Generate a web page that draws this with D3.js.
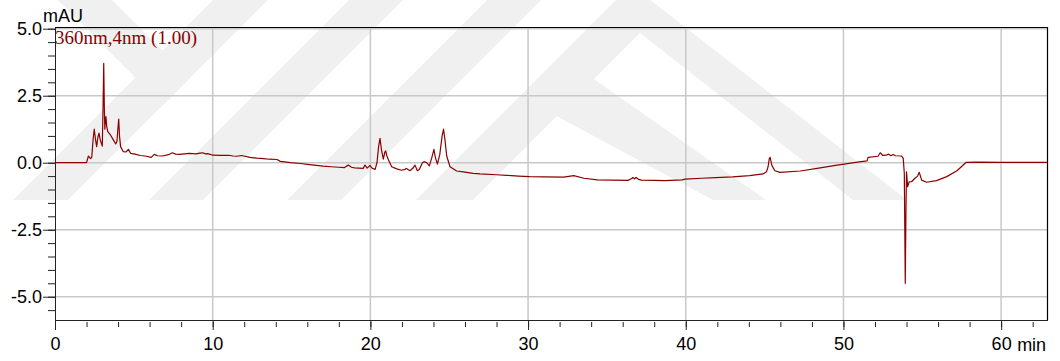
<!DOCTYPE html>
<html>
<head>
<meta charset="utf-8">
<script src="https://cdn.jsdelivr.net/npm/d3@7"></script>
<style>
  body { margin: 0; background: #fff; }
  svg { display: block; }
</style>
</head>
<body>
<svg id="chart" width="1060" height="361"></svg>
<script>
// Retention time (min) and detector response (mAU) at 360 nm
const retentionTime = [
  0, 1.0, 2.0, 2.12, 2.25, 2.33, 2.42, 2.49, 2.56, 2.64, 2.72, 2.79, 2.87, 2.94,
  3.0, 3.05, 3.09, 3.13, 3.16, 3.2, 3.23, 3.28, 3.35, 3.5, 3.7, 3.85, 3.93, 3.98,
  4.04, 4.09, 4.16, 4.33, 4.5, 4.65, 4.8, 5.08, 5.4, 5.72, 6.1, 6.3, 6.5, 6.8,
  7.2, 7.44, 7.65, 7.87, 8.2, 8.51, 8.94, 9.2, 9.37, 9.55, 9.69, 10.01, 10.5,
  11.08, 11.3, 11.51, 11.83, 12.37, 12.8, 13.22, 13.6, 14.08, 14.29, 14.94, 15.58,
  16.0, 16.44, 17.0, 17.51, 18.0, 18.36, 18.6, 18.8, 19.0, 19.54, 19.66, 19.8,
  19.97, 20.1, 20.3, 20.42, 20.52, 20.61, 20.7, 20.82, 20.92, 20.97, 21.05, 21.15,
  21.35, 21.67, 21.98, 22.2, 22.26, 22.51, 22.7, 22.83, 22.98, 23.1, 23.3, 23.4,
  23.57, 23.74, 23.9, 24.03, 24.12, 24.25, 24.4, 24.55, 24.64, 24.72, 24.84, 25.05,
  25.47, 25.89, 26.52, 26.95, 28.0, 28.65, 29.4, 30.1, 31.0, 32.26, 32.9, 33.54,
  34.4, 35.3, 36.33, 36.55, 36.65, 36.75, 36.85, 37.0, 37.19, 38.0, 38.69, 39.76,
  39.97, 41.0, 41.9, 42.97, 44.05, 44.9, 45.12, 45.22, 45.3, 45.35, 45.46, 45.65,
  45.97, 47.26, 48.33, 49.4, 50.04, 51.0, 51.5, 51.56, 52.19, 52.33, 52.5, 52.7,
  52.87, 53.0, 53.15, 53.3, 53.68, 53.79, 53.86, 53.92, 53.97, 54.0, 54.07, 54.17,
  54.32, 54.53, 54.7, 54.81, 54.96, 55.27, 55.9, 56.55, 57.2, 57.77, 58.5, 60.0, 62.9
];
const response = [
  0, 0, 0, 0.25, 0.15, 0.2, 0.9, 1.25, 0.9, 0.6, 0.95, 1.1, 0.85, 0.72,
  0.62, 2.2, 3.71, 2.0, 1.25, 1.6, 1.72, 1.35, 1.16, 1.05, 0.85, 0.7, 0.8, 1.2,
  1.63, 1.0, 0.6, 0.41, 0.4, 0.5, 0.35, 0.32, 0.27, 0.25, 0.2, 0.31, 0.26, 0.25,
  0.3, 0.37, 0.32, 0.31, 0.33, 0.35, 0.33, 0.36, 0.37, 0.33, 0.34, 0.28, 0.27,
  0.27, 0.25, 0.24, 0.27, 0.2, 0.17, 0.15, 0.13, 0.12, 0.05, 0.0, -0.03,
  -0.06, -0.09, -0.13, -0.15, -0.17, -0.18, -0.09, -0.17, -0.19, -0.21, -0.09, -0.2,
  -0.1, -0.2, -0.25, 0.0, 0.6, 0.91, 0.5, 0.13, 0.4, 0.44, 0.25, 0.1,
  -0.15, -0.23, -0.28, -0.25, -0.21, -0.3, -0.2, -0.09, -0.3, -0.25, 0.0, 0.04,
  0.0, -0.12, 0.2, 0.5, 0.2, -0.05, 0.3, 1.0, 1.25, 0.9, 0.25, -0.15,
  -0.31, -0.34, -0.4, -0.42, -0.45, -0.47, -0.5, -0.52, -0.53, -0.54, -0.48, -0.58,
  -0.64, -0.65, -0.66, -0.6, -0.55, -0.6, -0.55, -0.62, -0.65, -0.66, -0.67, -0.64,
  -0.61, -0.58, -0.56, -0.53, -0.48, -0.42, -0.34, -0.15, 0.16, 0.2, -0.1, -0.3,
  -0.36, -0.31, -0.21, -0.11, -0.05, 0.03, 0.07, 0.2, 0.24, 0.37, 0.27, 0.28,
  0.32, 0.26, 0.31, 0.26, 0.25, 0.17, -0.4, -4.5, -1.5, -0.34, -0.9, -0.71,
  -0.71, -0.58, -0.5, -0.36, -0.65, -0.73, -0.67, -0.52, -0.3, 0.01, 0.02, 0.01, 0.01
];
const xLabelTicks = [0, 10, 20, 30, 40, 50, 60];
const xMinorTicks = d3.range(0, 63, 2);
const yLabelTicks = [-5, -2.5, 0, 2.5, 5];
const yMinorTicks = d3.range(-5.5, 5.01, 0.5);
const channelLabel = "360nm,4nm (1.00)";
const yUnit = "mAU";
const xUnit = "min";

const trace = retentionTime.map((t, i) => ({ t, v: response[i] }));

const svg = d3.select("#chart");
const plot = { left: 55, right: 1047.5, top: 27.5, bottom: 320 };

const x = d3.scaleLinear().domain([0, 62.94]).range([plot.left, plot.right]);
const y = d3.scaleLinear().domain([-5.869, 5.045]).range([plot.bottom, plot.top]);

// faint background watermark bands
const wm = svg.append("g").attr("fill", "#f0f0f0");
const bands = [
  [[13, 200], [68, 200], [268, 0], [213, 0]],
  [[58, 0], [112, 0], [190, 78], [163, 105]],
  [[149, 200], [203, 200], [403, 0], [349, 0]],
  [[287, 200], [341, 200], [541, 0], [487, 0]],
  [[416, 200], [631, -15], [907, 200], [853, 200], [640, 33], [473, 200]],
  [[545, 110], [591, 77], [766, 200], [713, 200]]
];
wm.selectAll("polygon").data(bands).join("polygon")
  .attr("points", d => d.map(p => p.join(",")).join(" "));

// grid
const grid = svg.append("g").attr("stroke", "#c8c8c8").attr("stroke-width", 1.5);
grid.selectAll("line.gx").data(xLabelTicks.filter(d => d > 0)).join("line")
  .attr("x1", d => x(d)).attr("x2", d => x(d))
  .attr("y1", plot.top).attr("y2", plot.bottom);
grid.selectAll("line.gy").data(yLabelTicks).join("line")
  .attr("x1", plot.left).attr("x2", plot.right)
  .attr("y1", d => y(d)).attr("y2", d => y(d));

// frame (top and right)
svg.append("path")
  .attr("d", `M${plot.left},${plot.top}H${plot.right}V${plot.bottom}`)
  .attr("fill", "none").attr("stroke", "#000").attr("stroke-width", 1.2);

// chromatogram trace
svg.append("clipPath").attr("id", "clip").append("rect")
  .attr("x", plot.left).attr("y", plot.top)
  .attr("width", plot.right - plot.left).attr("height", plot.bottom - plot.top);
const line = d3.line().x(d => x(d.t)).y(d => y(d.v));
svg.append("path").datum(trace)
  .attr("clip-path", "url(#clip)")
  .attr("d", line)
  .attr("fill", "none")
  .attr("stroke", "#8b0000")
  .attr("stroke-width", 1.2)
  .attr("stroke-linejoin", "round");

// axes
const font = "'Liberation Sans', Arial, sans-serif";
const styleAxis = g => {
  g.selectAll("text").attr("font-family", font).attr("font-size", 18).attr("fill", "#000");
  g.selectAll("line, path").attr("stroke", "#222");
};

svg.append("g").attr("transform", `translate(0,${plot.bottom})`)
  .call(d3.axisBottom(x).tickValues(xMinorTicks).tickSizeInner(7).tickSizeOuter(0).tickFormat(""))
  .call(g => g.selectAll(".tick line").attr("y1", 2).attr("y2", 7))
  .call(styleAxis);
svg.append("g").attr("transform", `translate(0,${plot.bottom})`)
  .call(d3.axisBottom(x).tickValues(xLabelTicks).tickSizeInner(10).tickSizeOuter(0).tickPadding(7)
    .tickFormat(d => d))
  .call(g => g.select(".domain").remove())
  .call(styleAxis);
svg.append("text")
  .attr("x", x(60) + 16).attr("y", plot.bottom + 31)
  .attr("font-family", font).attr("font-size", 18)
  .text(xUnit);

svg.append("g").attr("transform", `translate(${plot.left},0)`)
  .call(d3.axisLeft(y).tickValues(yMinorTicks).tickSizeInner(7).tickSizeOuter(0).tickFormat(""))
  .call(styleAxis);
svg.append("g").attr("transform", `translate(${plot.left},0)`)
  .call(d3.axisLeft(y).tickValues(yLabelTicks).tickSizeInner(12).tickSizeOuter(0).tickPadding(1)
    .tickFormat(d => d.toFixed(1)))
  .call(g => g.select(".domain").remove())
  .call(styleAxis);

svg.append("text")
  .attr("x", 43).attr("y", 22)
  .attr("font-family", font).attr("font-size", 18)
  .text(yUnit);

svg.append("text")
  .attr("x", plot.left).attr("y", 44)
  .attr("font-family", "'Liberation Serif', 'Times New Roman', serif")
  .attr("font-size", 19).attr("fill", "#8b0000")
  .text(channelLabel);
</script>
</body>
</html>
